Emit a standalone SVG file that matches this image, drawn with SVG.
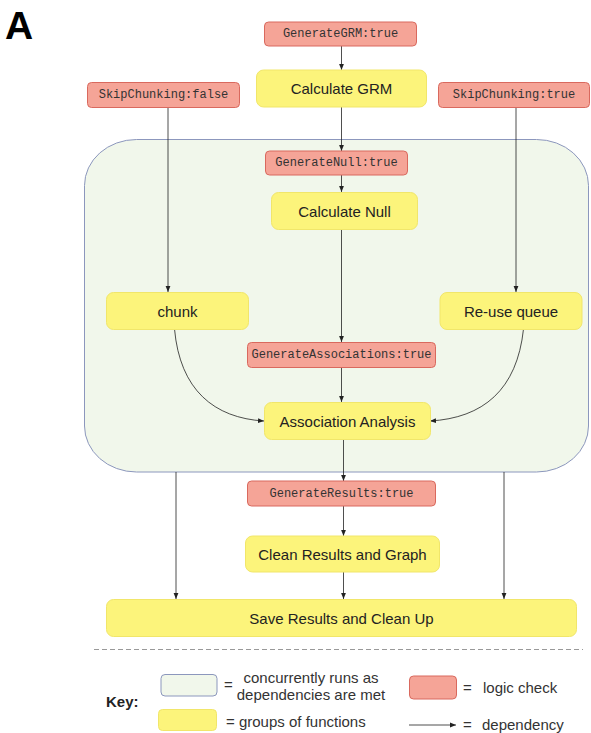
<svg xmlns="http://www.w3.org/2000/svg" width="591" height="733" viewBox="0 0 591 733">
<style>
.bg{fill:#ffffff}
.check rect{fill:#f5a497;stroke:#d9695e;stroke-width:1}
.check text{font-family:"Liberation Mono","DejaVu Sans Mono",monospace;font-size:12px;fill:#333;text-anchor:middle;dominant-baseline:central}
.func rect{fill:#fcf47b;stroke:#f1e66a;stroke-width:1}
.func text{font-family:"Liberation Sans",Arial,sans-serif;font-size:15px;fill:#222;text-anchor:middle;dominant-baseline:central}
.conc{fill:#f1f7eb;stroke:#8c97bd;stroke-width:1}
.edge{fill:none;stroke:#222;stroke-width:0.8;marker-end:url(#ah)}
.key{font-family:"Liberation Sans",Arial,sans-serif;font-size:15px;fill:#333}
</style>
<defs>
<marker id="ah" viewBox="0 0 10 10" refX="10" refY="5" markerWidth="6" markerHeight="6" markerUnits="userSpaceOnUse" orient="auto">
<path d="M0,1 L10,5 L0,9 z" fill="#222"/>
</marker>
</defs>
<rect class="bg" x="0" y="0" width="591" height="733"/>
<text x="5" y="39" font-family="Liberation Sans,Arial,sans-serif" font-weight="bold" font-size="39" fill="#000">A</text>

<g id="concurrent"><rect class="conc" x="84.5" y="139.5" width="504" height="332.5" rx="52" ry="46"/></g>

<g id="connectors">
<path class="edge" d="M341.5,46 V70"/>
<path class="edge" d="M341.5,107 V151"/>
<path class="edge" d="M341.5,175 V192"/>
<path class="edge" d="M341.5,229 V342"/>
<path class="edge" d="M341.5,367 V402"/>
<path class="edge" d="M168,107 V292"/>
<path class="edge" d="M516,107 V292"/>
<path class="edge" d="M174.5,329 C180,390 214,418 264,421"/>
<path class="edge" d="M523.5,329 C517,390 483,418 430,421"/>
<path class="edge" d="M343.5,439 V481"/>
<path class="edge" d="M343.5,506 V536"/>
<path class="edge" d="M343.5,572 V599"/>
<path class="edge" d="M176,472 V599"/>
<path class="edge" d="M504,472 V599"/>
</g>

<g id="GenerateGRM" class="check"><rect x="264.5" y="22" width="152" height="24" rx="4"/><text x="340.5" y="34">GenerateGRM:true</text></g>
<g id="CalculateGRM" class="func"><rect x="256.5" y="70" width="170" height="37" rx="7"/><text x="341.5" y="88.5">Calculate GRM</text></g>
<g id="SkipChunkingFalse" class="check"><rect x="87.5" y="82.5" width="152" height="25" rx="4"/><text x="163.5" y="95">SkipChunking:false</text></g>
<g id="SkipChunkingTrue" class="check"><rect x="438.5" y="82.5" width="151" height="25" rx="4"/><text x="514" y="95">SkipChunking:true</text></g>
<g id="GenerateNull" class="check"><rect x="265.5" y="151" width="142" height="24" rx="4"/><text x="336.5" y="163">GenerateNull:true</text></g>
<g id="CalculateNull" class="func"><rect x="271.5" y="192.5" width="146" height="37" rx="7"/><text x="344.5" y="211">Calculate Null</text></g>
<g id="chunk" class="func"><rect x="106.5" y="292.5" width="142" height="37" rx="7"/><text x="177.5" y="311">chunk</text></g>
<g id="ReuseQueue" class="func"><rect x="440" y="292.5" width="142" height="37" rx="7"/><text x="511" y="311">Re-use queue</text></g>
<g id="GenerateAssociations" class="check"><rect x="247.5" y="342.5" width="188" height="25" rx="4"/><text x="341.5" y="355">GenerateAssociations:true</text></g>
<g id="AssociationAnalysis" class="func"><rect x="264.5" y="402.5" width="166" height="37" rx="7"/><text x="347.5" y="421">Association Analysis</text></g>
<g id="GenerateResults" class="check"><rect x="247.5" y="481" width="188" height="25" rx="4"/><text x="341.5" y="493.5">GenerateResults:true</text></g>
<g id="CleanResults" class="func"><rect x="245.5" y="536" width="194" height="36" rx="7"/><text x="342.5" y="554">Clean Results and Graph</text></g>
<g id="SaveResults" class="func"><rect x="106.5" y="599.5" width="470" height="37" rx="7"/><text x="341.5" y="618">Save Results and Clean Up</text></g>

<line x1="94" y1="649.5" x2="583" y2="649.5" stroke="#999" stroke-width="1" stroke-dasharray="5,3"/>

<g id="legend">
<text x="106" y="707" font-family="Liberation Sans,Arial,sans-serif" font-weight="bold" font-size="15" fill="#222">Key:</text>
<rect class="conc" x="161" y="674.5" width="56" height="21.5" rx="4" ry="4"/>
<text class="key" x="224" y="690">=</text>
<text class="key" x="311" y="683" text-anchor="middle">concurrently runs as</text>
<text class="key" x="311" y="700" text-anchor="middle">dependencies are met</text>
<rect x="158.5" y="709.5" width="58" height="21" rx="4" fill="#fcf47b" stroke="#f1e66a"/>
<text class="key" x="226" y="727">= groups of functions</text>
<rect x="409.5" y="676" width="47" height="23" rx="4" fill="#f5a497" stroke="#d9695e"/>
<text class="key" x="463" y="693">=</text>
<text class="key" x="483" y="693">logic check</text>
<path class="edge" d="M409,725 H456"/>
<text class="key" x="463" y="730">=</text>
<text class="key" x="482" y="730">dependency</text>
</g>
</svg>
